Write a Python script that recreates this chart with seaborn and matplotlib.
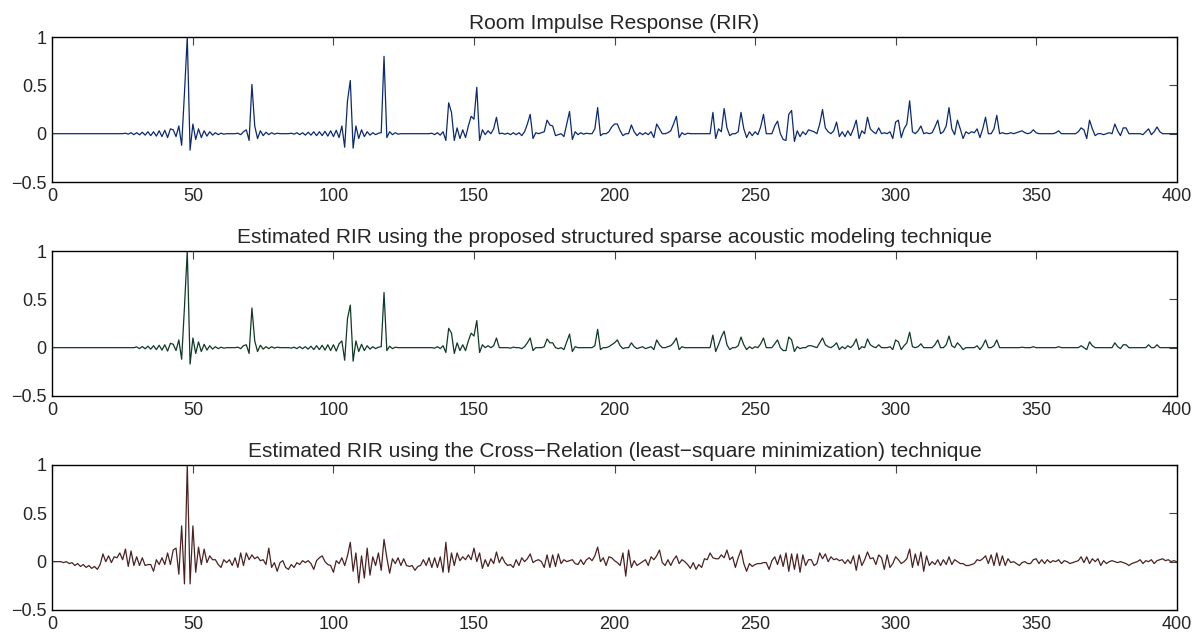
import numpy as np
import pandas as pd
import matplotlib
matplotlib.use("Agg")
import matplotlib.pyplot as plt
import seaborn as sns

# sample axis
n_samples = 401

# true RIR taps (index, amplitude), rest is zero
rir_taps = [
    (26, 0.005), (27, -0.005), (28, 0.01), (29, -0.01), (30, 0.01), (31, -0.012), (32, 0.015),
    (33, -0.015), (34, 0.02), (35, -0.02), (36, 0.02), (37, -0.025), (38, 0.03), (39, -0.03),
    (40, 0.035), (41, -0.04), (42, 0.05), (43, 0.04), (44, -0.03), (45, 0.08), (46, -0.12),
    (47, 0.42), (48, 1.0), (49, -0.17), (50, 0.1), (51, -0.06), (52, 0.05), (53, -0.04),
    (54, 0.03), (55, -0.025), (56, 0.02), (57, -0.015), (58, 0.01), (59, -0.01), (60, 0.005),
    (61, -0.005), (66, 0.005), (67, -0.01), (68, 0.02), (69, 0.04), (70, -0.07), (71, 0.51),
    (72, 0.08), (73, -0.05), (74, 0.03), (75, -0.02), (76, 0.015), (77, -0.01), (78, 0.01),
    (79, -0.005), (80, 0.005), (85, 0.005), (86, -0.005), (87, 0.01), (88, -0.01), (89, 0.01),
    (90, -0.015), (91, 0.015), (92, -0.015), (93, 0.02), (94, -0.02), (95, 0.02), (96, -0.02),
    (97, 0.025), (98, -0.025), (99, 0.03), (100, -0.03), (101, 0.035), (102, -0.04), (103, 0.08),
    (104, -0.14), (105, 0.34), (106, 0.55), (107, -0.15), (108, 0.08), (109, -0.05), (110, 0.04),
    (111, -0.03), (112, 0.02), (113, -0.015), (114, 0.01), (115, -0.01), (116, 0.005), (117, 0.01),
    (118, 0.8), (119, -0.04), (120, 0.02), (121, -0.01), (122, 0.01), (123, -0.005),
    (135, 0.005), (136, -0.01), (137, 0.01), (138, -0.015), (139, 0.02), (140, -0.07), (141, 0.32),
    (142, 0.22), (143, -0.07), (144, 0.06), (145, -0.05), (146, 0.04), (147, -0.04), (148, 0.08),
    (149, 0.18), (150, 0.15), (151, 0.48), (152, -0.07), (153, 0.04), (154, -0.01), (155, 0.03),
    (157, 0.05), (158, 0.17), (160, 0.005), (161, -0.005), (162, 0.005), (163, -0.01), (164, 0.01),
    (165, -0.01), (166, 0.01), (167, -0.02), (168, 0.02), (169, 0.1), (170, 0.2), (171, -0.05),
    (172, 0.01), (174, 0.01), (175, 0.02), (176, 0.14), (177, 0.09), (178, 0.08), (179, -0.02),
    (180, -0.01), (182, -0.03), (183, 0.1), (184, 0.23), (185, -0.06), (186, 0.02), (187, -0.01),
    (188, 0.01), (189, -0.005), (190, 0.005), (193, 0.05), (194, 0.27), (195, -0.02), (198, 0.02),
    (199, 0.07), (200, 0.1), (201, 0.1), (202, 0.03), (203, -0.02), (206, 0.09), (207, 0.02),
    (208, -0.02), (209, 0.01), (210, -0.01), (211, 0.01), (212, -0.01), (213, 0.02), (214, -0.04),
    (215, 0.1), (216, 0.05), (219, 0.01), (220, 0.03), (221, 0.1), (222, 0.18), (223, -0.04),
    (224, 0.01), (225, -0.01), (226, 0.005), (235, 0.22), (236, -0.05), (237, 0.05), (238, 0.02),
    (239, 0.26), (240, 0.06), (241, -0.02), (244, 0.02), (245, 0.22), (246, 0.05), (247, -0.04),
    (248, 0.02), (249, -0.02), (250, 0.02), (251, -0.01), (252, 0.07), (253, 0.2), (257, 0.08),
    (258, 0.13), (260, -0.06), (261, -0.07), (262, 0.2), (263, 0.24), (264, -0.08), (265, 0.03),
    (266, -0.03), (267, 0.02), (268, -0.01), (269, 0.04), (270, 0.03), (271, 0.02), (273, 0.1),
    (274, 0.25), (275, 0.06), (276, 0.02), (278, 0.03), (279, 0.12), (280, -0.03), (281, 0.02),
    (282, -0.03), (283, 0.03), (284, -0.02), (285, 0.05), (286, 0.14), (287, -0.05), (288, 0.03),
    (290, 0.17), (291, 0.05), (292, 0.02), (294, 0.06), (296, 0.01), (298, 0.02), (299, -0.05),
    (300, 0.12), (301, 0.14), (302, -0.04), (303, 0.05), (304, 0.1), (305, 0.34), (306, 0.02),
    (308, 0.03), (309, 0.08), (311, 0.01), (313, 0.01), (314, 0.07), (315, 0.14), (317, 0.02),
    (318, 0.08), (319, 0.27), (320, 0.05), (321, -0.01), (322, 0.14), (323, 0.05), (324, -0.05),
    (325, 0.02), (327, 0.02), (328, 0.01), (329, 0.05), (330, -0.04), (331, 0.05), (332, 0.17),
    (335, 0.05), (336, 0.19), (338, 0.01), (341, 0.01), (343, 0.01), (344, 0.02), (345, 0.03),
    (346, 0.01), (348, 0.01), (349, 0.04), (350, 0.01), (357, 0.01), (358, 0.03), (365, 0.02),
    (366, 0.06), (367, 0.04), (368, -0.05), (369, 0.14), (370, 0.05), (371, -0.02), (374, -0.01),
    (376, 0.01), (378, 0.1), (379, 0.03), (380, -0.02), (381, 0.06), (382, 0.06), (388, -0.01),
    (389, 0.02), (390, 0.05), (391, -0.01), (392, 0.02), (393, 0.07), (394, 0.02),
]

# structured sparse estimate (middle panel)
sparse_taps = [
    (30, 0.008), (31, -0.01), (32, 0.012), (33, -0.012), (34, 0.015), (35, -0.015), (36, 0.02),
    (37, -0.02), (38, 0.025), (39, -0.025), (40, 0.03), (41, -0.035), (42, 0.045), (43, 0.035),
    (44, -0.03), (45, 0.08), (46, -0.12), (47, 0.42), (48, 1.0), (49, -0.17), (50, 0.1),
    (51, -0.06), (52, 0.06), (53, -0.04), (54, 0.035), (55, -0.025), (56, 0.02), (57, -0.015),
    (58, 0.01), (59, -0.01), (60, 0.005), (61, -0.005), (66, 0.005), (67, -0.01), (68, 0.02),
    (69, 0.03), (70, -0.06), (71, 0.41), (72, 0.07), (73, -0.04), (74, 0.025), (75, -0.015),
    (76, 0.01), (77, -0.01), (78, 0.01), (79, -0.005), (80, 0.005), (85, -0.005), (86, 0.005),
    (87, -0.01), (88, 0.01), (89, -0.01), (90, 0.01), (91, -0.015), (92, 0.015), (93, -0.02),
    (94, 0.02), (95, -0.02), (96, 0.025), (97, -0.025), (98, 0.03), (99, -0.03), (100, 0.03),
    (101, -0.035), (102, 0.04), (103, 0.07), (104, -0.13), (105, 0.3), (106, 0.44), (107, -0.14),
    (108, 0.07), (109, -0.04), (110, 0.035), (111, -0.03), (112, 0.02), (113, -0.015), (114, 0.01),
    (115, -0.01), (116, 0.005), (117, 0.01), (118, 0.57), (119, -0.03), (120, 0.015), (121, -0.01),
    (122, 0.005), (136, -0.005), (137, 0.01), (138, -0.01), (139, 0.02), (140, -0.05), (141, 0.2),
    (142, 0.15), (143, -0.06), (144, 0.05), (145, -0.03), (146, 0.03), (147, -0.03), (148, 0.07),
    (149, 0.15), (150, 0.12), (151, 0.28), (152, -0.05), (153, 0.03), (155, 0.02), (157, 0.02),
    (158, 0.1), (163, -0.005), (164, 0.005), (167, -0.01), (168, 0.01), (169, 0.05), (170, 0.1),
    (171, -0.03), (175, 0.01), (176, 0.09), (177, 0.05), (178, 0.05), (180, -0.01), (182, -0.02),
    (183, 0.06), (184, 0.14), (185, -0.04), (186, 0.01), (193, 0.02), (194, 0.19), (195, -0.02),
    (198, 0.01), (199, 0.03), (200, 0.05), (201, 0.08), (202, 0.02), (203, -0.01), (206, 0.05),
    (207, 0.01), (208, -0.01), (210, 0.01), (211, -0.01), (213, 0.01), (214, -0.02), (215, 0.08),
    (216, 0.03), (219, 0.01), (220, 0.02), (221, 0.05), (222, 0.1), (223, -0.02), (224, 0.01),
    (235, 0.13), (236, -0.04), (237, 0.03), (238, 0.11), (239, 0.17), (240, 0.03), (241, -0.02),
    (244, 0.02), (245, 0.11), (246, 0.03), (247, -0.02), (248, 0.01), (249, -0.01), (250, 0.01),
    (252, 0.04), (253, 0.1), (257, 0.04), (258, 0.08), (260, -0.03), (261, -0.03), (262, 0.11),
    (263, 0.08), (264, -0.04), (265, 0.01), (266, -0.01), (269, 0.02), (270, 0.02), (271, 0.01),
    (273, 0.05), (274, 0.1), (275, 0.03), (276, 0.01), (278, 0.02), (279, 0.05), (280, -0.02),
    (281, 0.01), (282, -0.01), (283, 0.02), (285, 0.03), (286, 0.09), (287, -0.02), (288, 0.01),
    (290, 0.09), (291, 0.03), (292, 0.01), (294, 0.03), (298, 0.01), (299, -0.02), (300, 0.08),
    (301, 0.06), (302, -0.02), (303, 0.02), (304, 0.05), (305, 0.16), (306, 0.01), (308, 0.01),
    (309, 0.04), (314, 0.03), (315, 0.08), (318, 0.03), (319, 0.12), (320, 0.02), (322, 0.05),
    (323, 0.02), (324, -0.02), (329, 0.02), (330, -0.02), (331, 0.02), (332, 0.08), (335, 0.02),
    (336, 0.08), (345, 0.005), (349, 0.01), (358, 0.01), (366, 0.02), (368, -0.02), (369, 0.06),
    (370, 0.02), (378, 0.05), (379, 0.01), (380, -0.01), (381, 0.03), (382, 0.03), (390, 0.03),
    (393, 0.03),
]

# cross-relation estimate (bottom panel), samples 0..400
cr_values = [
    0, 0, 0, 0, -0.01, 0, -0.02, -0.01, -0.04, -0.02, -0.05, -0.03, -0.06, -0.04, -0.07, -0.05, -0.08, -0.03, 0.08, 0,
    0.06, -0.01, 0.05, 0.04, 0.09, 0.02, 0.13, -0.05, 0.11, -0.04, 0.05, -0.04, 0.04, -0.04, -0.03, -0.03, -0.1, 0.02, -0.03, 0.04,
    -0.03, 0.09, -0.03, 0.12, 0.14, -0.13, 0.37, -0.23, 1.0, -0.23, 0.37, -0.11, 0.15, -0.03, 0.13, -0.01, 0.06, 0.02, 0.02, -0.03,
    -0.06, 0.02, -0.01, 0.02, -0.04, 0.04, -0.06, 0.09, -0.04, 0.09, 0.02, 0.07, 0.03, 0.05, 0.01, 0.02, -0.03, 0.14, -0.06, -0.01,
    -0.1, -0.01, 0.01, -0.06, -0.08, -0.03, -0.06, -0.01, -0.03, 0.01, -0.01, 0.01, -0.02, -0.08, 0.01, 0.04, 0.06, 0.0, -0.03, -0.04,
    -0.11, 0.01, -0.02, 0.04, -0.04, 0.06, 0.2, -0.1, 0.09, -0.22, 0.06, -0.17, 0.14, -0.14, 0.05, -0.04, 0.09, -0.09, 0.23, 0.04,
    -0.12, 0.03, -0.02, 0.04, -0.04, 0.03, -0.04, -0.05, -0.04, -0.09, -0.05, -0.04, 0.02, -0.04, 0.04, -0.06, 0.04, -0.06, 0.05, -0.11,
    0.2, -0.11, 0.09, -0.04, 0.09, 0.01, 0.05, 0.02, 0.07, 0.02, 0.14, 0.0, 0.09, -0.07, 0.02, -0.05, 0.03, -0.02, 0.1, -0.01,
    0.05, -0.01, -0.04, -0.03, -0.06, 0.02, -0.04, 0.04, 0.0, 0.03, 0.08, -0.01, 0.01, 0.02, 0.0, -0.06, 0.07, -0.06, 0.07, -0.05,
    0.08, -0.02, 0.02, 0.0, 0.01, 0.02, -0.02, -0.03, 0.02, -0.03, 0.02, 0.04, 0.01, 0.06, 0.15, 0.0, 0.04, -0.04, 0.05, 0.04,
    0.01, -0.01, -0.04, 0.09, -0.15, 0.12, -0.06, 0.01, -0.04, -0.02, 0.0, 0.02, -0.04, 0.05, 0.02, 0.06, 0.12, -0.01, -0.04, 0.02,
    -0.04, 0.02, 0.06, -0.02, 0.02, 0.0, -0.03, -0.07, -0.01, -0.08, -0.03, -0.06, 0.03, 0.02, 0.09, 0.04, 0.03, 0.03, 0.07, 0.04,
    0.12, 0.02, 0.05, -0.06, 0.04, 0.12, -0.02, -0.1, -0.02, -0.05, -0.03, -0.02, -0.02, -0.01, -0.01, -0.08, 0.01, 0.05, -0.03, 0.07,
    -0.05, 0.09, -0.1, 0.08, -0.08, 0.08, -0.11, 0.07, -0.04, 0.02, 0.02, -0.04, -0.02, 0.09, 0.03, 0.08, 0.0, 0.05, 0.02, 0.03,
    0.01, 0.02, -0.02, 0.02, -0.02, 0.06, -0.09, 0.07, -0.04, 0.02, 0.1, 0.03, 0.04, -0.03, 0.07, 0.04, -0.08, 0.07, -0.06, -0.02,
    0.05, 0.02, -0.02, 0.0, 0.03, 0.13, -0.06, 0.08, -0.04, 0.1, -0.1, 0.06, -0.04, 0.0, -0.03, 0.02, -0.04, 0.02, -0.03, 0.05,
    -0.03, 0.02, 0.0, -0.02, -0.02, -0.04, -0.04, -0.03, -0.02, 0.02, 0.01, 0.03, 0.06, -0.02, 0.07, -0.04, 0.09, -0.04, 0.06, -0.04,
    0.03, -0.01, 0.0, -0.02, -0.04, -0.01, 0.0, -0.02, -0.02, 0.02, 0.03, -0.02, 0.02, -0.02, 0.02, -0.01, 0.01, 0.0, 0.02, -0.02,
    0.01, 0.0, -0.02, -0.01, 0.0, 0.01, 0.05, -0.01, 0.05, -0.02, 0.03, 0.0, 0.03, -0.04, 0.01, -0.02, 0.0, 0.01, 0.0, -0.01,
    0.0, -0.01, -0.02, -0.04, -0.02, -0.01, 0.0, 0.02, -0.02, 0.01, 0.0, 0.02, -0.02, 0.01, 0.02, 0.03, 0.01, 0.02, 0.0, 0.01,
    0.0,
]

titles = [
    "Room Impulse Response (RIR)",
    "Estimated RIR using the proposed structured sparse acoustic modeling technique",
    "Estimated RIR using the Cross\u2212Relation (least\u2212square minimization) technique",
]
line_colors = ["#0c2a72", "#0f3a25", "#4b2222"]
x_ticks = [0, 50, 100, 150, 200, 250, 300, 350, 400]
y_ticks = [-0.5, 0, 0.5, 1]
y_tick_labels = ["\u22120.5", "0", "0.5", "1"]


def taps_to_signal(taps):
    h = np.zeros(n_samples)
    for i, v in taps:
        h[i] = v
    return h


sns.set_style("white")
plt.rcParams["font.family"] = ["Liberation Sans", "DejaVu Sans"]

n = np.arange(n_samples)
signals = [taps_to_signal(rir_taps), taps_to_signal(sparse_taps), np.array(cr_values)]

fig = plt.figure(figsize=(11.98, 6.34), dpi=100)
# axes boxes in figure fractions (MATLAB subplot layout)
boxes = [
    [0.0437, 0.7129, 0.9385, 0.2287],
    [0.0437, 0.3754, 0.9385, 0.2287],
    [0.0437, 0.0379, 0.9385, 0.2287],
]

for box, h, title, color in zip(boxes, signals, titles, line_colors):
    ax = fig.add_axes(box)
    df = pd.DataFrame({"n": n, "h": h})
    sns.lineplot(data=df, x="n", y="h", ax=ax, color=color, linewidth=0.9,
                 estimator=None, sort=False)
    ax.set_xlim(0, 400)
    ax.set_ylim(-0.5, 1)
    ax.set_xticks(x_ticks)
    ax.set_yticks(y_ticks)
    ax.set_yticklabels(y_tick_labels)
    ax.set_xlabel("")
    ax.set_ylabel("")
    ax.set_title(title, fontsize=15, pad=6)
    ax.tick_params(direction="in", top=True, right=True, length=6, width=0.8,
                   labelsize=13, color="#444444", pad=4)
    for sp in ax.spines.values():
        sp.set_visible(True)
        sp.set_color("black")
        sp.set_linewidth(1.0)

fig.savefig("out.png", dpi=100)
